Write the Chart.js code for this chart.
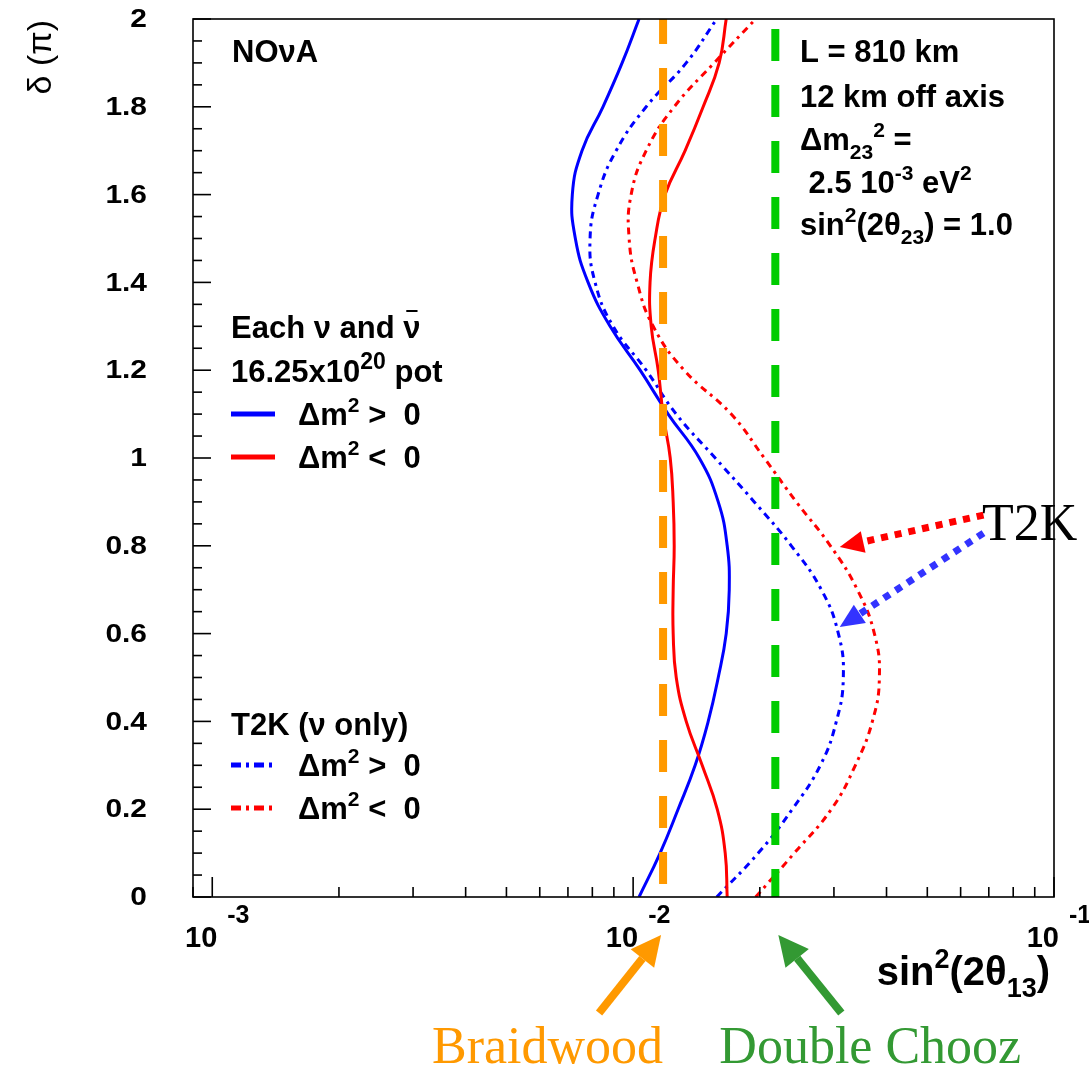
<!DOCTYPE html>
<html><head><meta charset="utf-8">
<script src="https://cdn.jsdelivr.net/npm/chart.js@4.4.0/dist/chart.umd.min.js"></script>
<style>html,body{margin:0;padding:0;background:#fff;}#wrap{width:1089px;height:1070px;}</style>
</head><body><div id="wrap"><canvas id="c" width="1089" height="1070"></canvas></div>
<script>
// ---- data ----
const delta = [0,0.1,0.2,0.3,0.4,0.5,0.6,0.7,0.8,0.9,1.0,1.1,1.2,1.3,1.4,1.5,1.6,1.7,1.8,1.9,2.0];
const novaNormal   = [0.01033,0.01159,0.01279,0.01404,0.01508,0.01593,0.01664,0.01692,0.01673,0.01593,0.01436,0.01211,0.01039,0.008816,0.007816,0.007290,0.007170,0.007560,0.008480,0.009416,0.01033];
const novaInverted = [0.01673,0.01655,0.01584,0.01459,0.01337,0.01266,0.01245,0.01245,0.01252,0.01245,0.01225,0.01178,0.01147,0.01104,0.01097,0.01128,0.01191,0.01329,0.01467,0.01601,0.01664];
const t2kNormal    = [0.01580,0.01983,0.02389,0.02785,0.03040,0.03158,0.03074,0.02800,0.02376,0.01940,0.01567,0.01266,0.01074,0.008964,0.008121,0.007901,0.008255,0.009111,0.01074,0.01337,0.01580];
const t2kInverted  = [0.01955,0.02415,0.02958,0.03373,0.03702,0.03847,0.03743,0.03410,0.02942,0.02442,0.02049,0.01710,0.01322,0.01116,0.01022,0.009783,0.009891,0.01074,0.01252,0.01558,0.01955];
const braidwoodX = 0.01178;
const doubleChoozX = 0.02177;
const yTickValues = [0,0.2,0.4,0.6,0.8,1,1.2,1.4,1.6,1.8,2];
const yTickLabels = ['0','0.2','0.4','0.6','0.8','1','1.2','1.4','1.6','1.8','2'];
const xMajorTicks = [0.001,0.01,0.1];
const xMajorExps = ['-3','-2','-1'];

const pts = arr => arr.map((v,i)=>({x:v,y:delta[i]}));
const vline = v => [{x:v,y:2},{x:v,y:0}];

const SANS = '"Liberation Sans", Arial, Helvetica, sans-serif';
const SERIF = '"Liberation Serif", "Times New Roman", serif';

function rich(ctx, x, y, parts, size, weight, align, color, supScale) {
  const ss = supScale || 0.68;
  const sz = m => (m === 'n' ? size : Math.round(size * ss));
  const f = m => `${weight} ${sz(m)}px ${SANS}`;
  let w = 0;
  parts.forEach(p => { ctx.font = f(p[1]); w += ctx.measureText(p[0]).width; });
  let cx = align === 'right' ? x - w : align === 'center' ? x - w / 2 : x;
  ctx.textAlign = 'left'; ctx.textBaseline = 'alphabetic';
  ctx.fillStyle = color || '#000';
  const pos = [];
  parts.forEach(p => {
    ctx.font = f(p[1]);
    const dy = p[1] === 'sup' ? -size * 0.42 : p[1] === 'sub' ? size * 0.3 : 0;
    ctx.fillText(p[0], cx, y + dy);
    const tw = ctx.measureText(p[0]).width;
    pos.push([cx, tw]);
    cx += tw;
  });
  return pos;
}

function arrow(ctx, x0, y0, x1, y1, color, lw, dash, headLen, headHalf) {
  const ang = Math.atan2(y1 - y0, x1 - x0);
  const bx = x1 - Math.cos(ang) * headLen, by = y1 - Math.sin(ang) * headLen;
  ctx.save();
  ctx.strokeStyle = color; ctx.fillStyle = color; ctx.lineWidth = lw;
  ctx.setLineDash(dash || []);
  ctx.lineCap = 'butt';
  ctx.beginPath(); ctx.moveTo(x0, y0); ctx.lineTo(bx, by); ctx.stroke();
  ctx.setLineDash([]);
  ctx.beginPath();
  ctx.moveTo(x1, y1);
  ctx.lineTo(bx + Math.sin(ang) * headHalf, by - Math.cos(ang) * headHalf);
  ctx.lineTo(bx - Math.sin(ang) * headHalf, by + Math.cos(ang) * headHalf);
  ctx.closePath(); ctx.fill();
  ctx.restore();
}

const deco = {
  id: 'deco',
  afterDraw(chart) {
    const ctx = chart.ctx, a = chart.chartArea, xs = chart.scales.x, ys = chart.scales.y;
    ctx.save();
    // frame
    ctx.strokeStyle = '#000'; ctx.lineWidth = 1.6;
    ctx.strokeRect(a.left, a.top, a.right - a.left, a.bottom - a.top);
    // y ticks
    for (let i = 0; i <= 40; i++) {
      const py = ys.getPixelForValue(i * 0.05);
      const len = (i % 4 === 0) ? 18 : 9;
      ctx.beginPath(); ctx.moveTo(a.left, py); ctx.lineTo(a.left + len, py); ctx.stroke();
    }
    // x ticks
    for (let e = -4; e <= -1; e++) {
      for (let m = 1; m <= 9; m++) {
        const v = m * Math.pow(10, e);
        if (v < xs.min * 0.999 || v > xs.max * 1.001) continue;
        const px = xs.getPixelForValue(v);
        const len = (m === 1) ? 20 : 10;
        ctx.beginPath(); ctx.moveTo(px, a.bottom); ctx.lineTo(px, a.bottom - len); ctx.stroke();
      }
    }
    // y tick labels (slightly wide glyphs)
    ctx.fillStyle = '#000';
    yTickValues.forEach((v, i) => {
      ctx.save();
      ctx.translate(a.left - 46, ys.getPixelForValue(v) + 1);
      ctx.scale(1.15, 1);
      ctx.font = `bold 26px ${SANS}`;
      ctx.textAlign = 'right'; ctx.textBaseline = 'middle';
      ctx.fillText(yTickLabels[i], 0, 0);
      ctx.restore();
    });
    // x tick labels
    xMajorTicks.forEach((v, i) => {
      const px = xs.getPixelForValue(v);
      ctx.font = `bold 29px ${SANS}`; ctx.textAlign = 'right'; ctx.textBaseline = 'alphabetic';
      ctx.fillText('10', px + 5, a.bottom + 50);
      ctx.font = `bold 25px ${SANS}`; ctx.textAlign = 'left';
      ctx.fillText(xMajorExps[i], px + 15, a.bottom + 26);
    });
    // axis titles
    rich(ctx, a.right - 4, a.bottom + 88, [['sin','n'],['2','sup'],['(2θ','n'],['13','sub'],[')','n']], 40, 'bold', 'right');
    ctx.save();
    ctx.translate(51, a.top + 1); ctx.rotate(-Math.PI / 2);
    ctx.font = `34px ${SANS}`; ctx.textAlign = 'right'; ctx.textBaseline = 'alphabetic'; ctx.fillStyle = '#000';
    ctx.fillText('δ (π)', 0, 0);
    ctx.restore();

    // inside texts
    const L = a.left, T = a.top;
    rich(ctx, L + 39, T + 43, [['NOνA','n']], 31, 'bold', 'left');
    const rx = L + 607;
    rich(ctx, rx, T + 43, [['L = 810 km','n']], 31, 'bold', 'left');
    rich(ctx, rx, T + 88, [['12 km off axis','n']], 31, 'bold', 'left');
    rich(ctx, rx, T + 131, [['Δm','n'],['23','sub'],['2','sup'],[' =','n']], 31, 'bold', 'left');
    rich(ctx, rx, T + 174, [[' 2.5 10','n'],['-3','sup'],[' eV','n'],['2','sup']], 31, 'bold', 'left');
    rich(ctx, rx, T + 216, [['sin','n'],['2','sup'],['(2θ','n'],['23','sub'],[') = 1.0','n']], 31, 'bold', 'left');

    const p = rich(ctx, L + 38, T + 319, [['Each ν and ','n'],['ν','n']], 31, 'bold', 'left');
    // bar over the last ν (anti-neutrino)
    ctx.save(); ctx.strokeStyle = '#000'; ctx.lineWidth = 2;
    ctx.beginPath(); ctx.moveTo(p[1][0] + 3, T + 319 - 27); ctx.lineTo(p[1][0] + p[1][1] - 3, T + 319 - 27); ctx.stroke();
    ctx.restore();
    rich(ctx, L + 38, T + 363, [['16.25x10','n'],['20','sup'],[' pot','n']], 31, 'bold', 'left', '#000', 0.74);
    rich(ctx, L + 38, T + 716, [['T2K (ν only)','n']], 31, 'bold', 'left');
    const leg = [
      {color: '#0000FF', dash: [], sign: '>'},
      {color: '#FF0000', dash: [], sign: '<'},
      {color: '#0000FF', dash: [10,5,3,5], sign: '>'},
      {color: '#FF0000', dash: [10,5,3,5], sign: '<'}
    ];
    const legY = [414, 457, 765, 808];
    leg.forEach((g, i) => {
      const yy = legY[i];
      ctx.save();
      ctx.strokeStyle = g.color; ctx.lineWidth = 5; ctx.setLineDash(g.dash);
      ctx.beginPath(); ctx.moveTo(L + 38, yy); ctx.lineTo(L + 82, yy); ctx.stroke();
      ctx.restore();
      rich(ctx, L + 105, yy + 11, [['Δm','n'],['2','sup'],[' ' + g.sign + '  0','n']], 31, 'bold', 'left');
    });

    // T2K annotation
    ctx.fillStyle = '#000';
    ctx.font = `52px ${SERIF}`; ctx.textAlign = 'left'; ctx.textBaseline = 'alphabetic';
    ctx.fillText('T2K', a.left + 789, T + 521);
    arrow(ctx, xs.getPixelForValue(0.0680), ys.getPixelForValue(0.870), xs.getPixelForValue(0.03097), ys.getPixelForValue(0.797), '#FF0000', 7, [7,7], 24, 11);
    arrow(ctx, xs.getPixelForValue(0.0680), ys.getPixelForValue(0.829), xs.getPixelForValue(0.03097), ys.getPixelForValue(0.615), '#3333FF', 7, [7,7], 24, 11);

    // Braidwood / Double Chooz arrows and labels
    const bx = xs.getPixelForValue(braidwoodX), gx = xs.getPixelForValue(doubleChoozX);
    arrow(ctx, bx - 64, a.bottom + 116, bx - 2, a.bottom + 38, '#FF9900', 8, [], 30, 15);
    arrow(ctx, gx + 66, a.bottom + 116, gx + 3, a.bottom + 38, '#339933', 8, [], 30, 15);
    ctx.font = `52px ${SERIF}`; ctx.textBaseline = 'alphabetic';
    ctx.fillStyle = '#FF9900'; ctx.textAlign = 'right';
    ctx.fillText('Braidwood', bx, a.bottom + 166);
    ctx.fillStyle = '#339933'; ctx.textAlign = 'left';
    ctx.fillText('Double Chooz', gx - 56, a.bottom + 166);
    ctx.restore();
  }
};

const lineDS = (data, color, dash, order) => ({
  data, borderColor: color, borderWidth: 3, borderDash: dash, pointRadius: 0,
  showLine: true, tension: 0.45, fill: false, order
});

new Chart(document.getElementById('c'), {
  type: 'scatter',
  data: {
    datasets: [
      Object.assign(lineDS(vline(braidwoodX), '#FF9900', [32,24], 0), {borderWidth: 8, tension: 0, borderDashOffset: 7}),
      Object.assign(lineDS(vline(doubleChoozX), '#00CC00', [32,24], 1), {borderWidth: 8, tension: 0, borderDashOffset: 46}),
      lineDS(pts(novaInverted), '#FF0000', [], 2),
      lineDS(pts(novaNormal), '#0000FF', [], 3),
      lineDS(pts(t2kInverted), '#FF0000', [7,5,3,5], 4),
      lineDS(pts(t2kNormal), '#0000FF', [7,5,3,5], 5)
    ]
  },
  options: {
    responsive: false, animation: false, devicePixelRatio: 1,
    layout: {padding: {left: 193, right: 35, top: 19, bottom: 173}},
    plugins: {legend: {display: false}, tooltip: {enabled: false}},
    scales: {
      x: {type: 'logarithmic', min: 0.0009, max: 0.1, display: false},
      y: {type: 'linear', min: 0, max: 2, display: false}
    }
  },
  plugins: [deco]
});
</script>
</body></html>
